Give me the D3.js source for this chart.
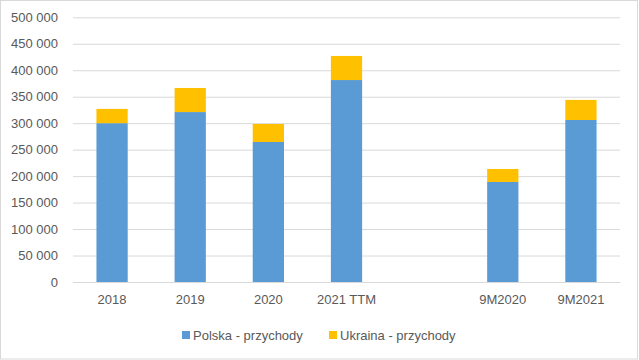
<!DOCTYPE html>
<html><head><meta charset="utf-8">
<script src="https://cdn.jsdelivr.net/npm/d3@7"></script>
<style>
html,body{margin:0;padding:0;background:#fff;}
svg{display:block;font-family:"Liberation Sans",Arial,sans-serif;}
</style></head>
<body>
<svg id="chart" width="639" height="360"></svg>
<script>
const categories = ["2018", "2019", "2020", "2021 TTM", "", "9M2020", "9M2021"];
const polska = [300000, 321000, 264500, 381500, null, 189000, 306000];
const ukraina = [27000, 45500, 34000, 45500, null, 24500, 38000];
const yTicks = [0, 50000, 100000, 150000, 200000, 250000, 300000, 350000, 400000, 450000, 500000];
const seriesNames = ["Polska - przychody", "Ukraina - przychody"];
const colors = ["#5B9BD5", "#FFC000"];

const svg = d3.select("#chart");
const W = 639, H = 360;
const m = {left: 73, right: 19, top: 17.3, bottom: 78};

svg.append("rect").attr("x", 0.5).attr("y", 0.5).attr("width", W - 2).attr("height", H - 1.5)
  .attr("fill", "#fff").attr("stroke", "#D9D9D9");

const x = d3.scaleBand().domain(categories.map((c, i) => i)).range([m.left, W - m.right]).paddingInner(0.6).paddingOuter(0.3);
const y = d3.scaleLinear().domain([0, 500000]).range([H - m.bottom, m.top]);

const fmt = v => d3.format(",")(v).replace(/,/g, " ");

const gy = svg.append("g").attr("transform", `translate(${m.left},0)`)
  .call(d3.axisLeft(y).tickValues(yTicks).tickSize(-(W - m.right - m.left)).tickPadding(15).tickFormat(fmt));
gy.select(".domain").remove();
gy.selectAll(".tick line").attr("stroke", "#D9D9D9");
gy.selectAll(".tick text").attr("fill", "#595959").style("font-size", "13px");

const data = categories.map((c, i) => ({i, p: polska[i], u: ukraina[i]})).filter(d => d.p != null);
const stack = d3.stack().keys(["p", "u"])(data);

svg.append("g").selectAll("g").data(stack).join("g").attr("fill", (d, k) => colors[k])
  .selectAll("rect").data(d => d).join("rect")
  .attr("x", d => x(d.data.i)).attr("width", x.bandwidth())
  .attr("y", d => y(d[1])).attr("height", d => y(d[0]) - y(d[1]));

const gx = svg.append("g").attr("transform", `translate(0,${y(0)})`)
  .call(d3.axisBottom(x).tickSize(0).tickPadding(13).tickFormat(i => categories[i]));
gx.select(".domain").attr("stroke", "#D9D9D9");
gx.selectAll(".tick text").attr("fill", "#595959").style("font-size", "13px");

const legend = svg.append("g").attr("transform", "translate(182,331)");
const lx = [0, 147];
seriesNames.forEach((n, k) => {
  const g = legend.append("g").attr("transform", `translate(${lx[k]},0)`);
  g.append("rect").attr("width", 8).attr("height", 8).attr("fill", colors[k]);
  g.append("text").attr("x", 11).attr("y", 4).attr("dy", "0.35em").attr("fill", "#595959")
    .style("font-size", "13px").text(n);
});
</script>
</body></html>
